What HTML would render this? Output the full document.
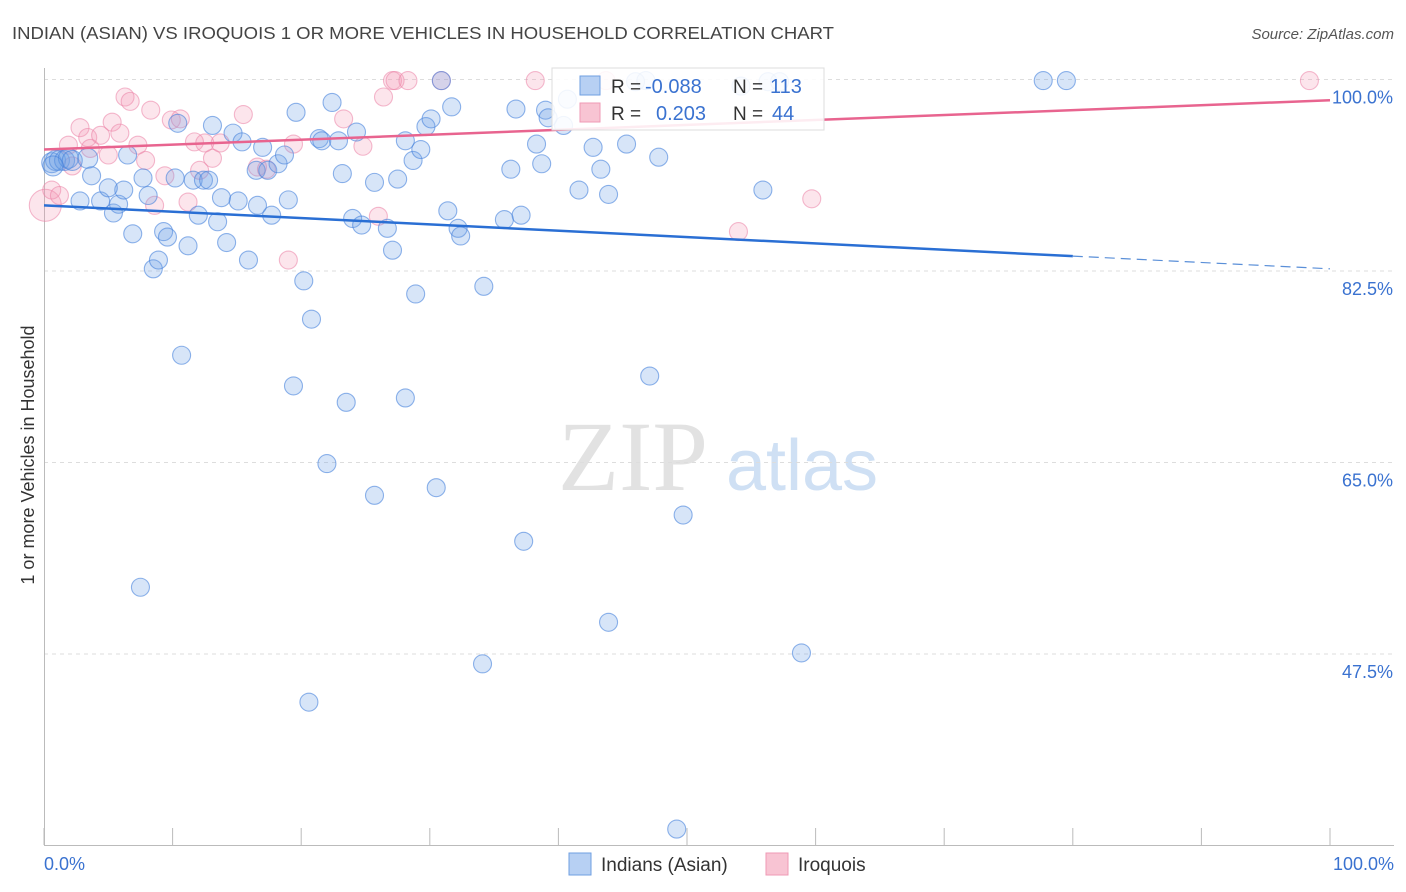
<!DOCTYPE html>
<html><head><meta charset="utf-8"><style>
body{margin:0;background:#fff;font-family:"Liberation Sans",sans-serif}
svg{display:block}
</style></head><body>
<svg id="chart" width="1406" height="892">
<text x="12" y="39" font-size="17.5" fill="#444" textLength="822" lengthAdjust="spacingAndGlyphs">INDIAN (ASIAN) VS IROQUOIS 1 OR MORE VEHICLES IN HOUSEHOLD CORRELATION CHART</text>
<text x="1394" y="39" font-size="15" fill="#555" font-style="italic" text-anchor="end">Source: ZipAtlas.com</text>
<g>
<text x="633" y="490" font-size="100" font-family="Liberation Serif,serif" fill="#e2e2e2" text-anchor="middle">ZIP</text>
<text x="802" y="490" font-size="72" fill="#cfe0f4" text-anchor="middle">atlas</text>
</g>
<g id="grid"></g>
<g id="axes"></g>
<g id="pts"></g>
<g id="lines"></g>
<text transform="translate(34,455) rotate(-90)" font-size="18" fill="#333" text-anchor="middle">1 or more Vehicles in Household</text>
<text x="44" y="870" font-size="18" fill="#3a72d0">0.0%</text>
<text x="1394" y="870" font-size="18" fill="#3a72d0" text-anchor="end">100.0%</text>
<g>
<rect x="552" y="68" width="272" height="62" fill="rgba(255,255,255,0.88)" stroke="#ddd"/>
<rect x="580" y="76" width="20" height="19" fill="#b7d0f3" stroke="#6f9fe2"/>
<rect x="580" y="103" width="20" height="19" fill="#f8c4d3" stroke="#ef9ab5"/>
<text x="611" y="93" font-size="19" fill="#333">R =</text>
<text x="645" y="93" font-size="20" fill="#3a72d0">-0.088</text>
<text x="733" y="93" font-size="19" fill="#333">N =</text>
<text x="770" y="93" font-size="20" fill="#3a72d0">113</text>
<text x="611" y="120" font-size="19" fill="#333">R =</text>
<text x="656" y="120" font-size="20" fill="#3a72d0">0.203</text>
<text x="733" y="120" font-size="19" fill="#333">N =</text>
<text x="772" y="120" font-size="20" fill="#3a72d0">44</text>
</g>
<g>
<rect x="569" y="853" width="22" height="22" fill="#b7d0f3" stroke="#6f9fe2"/>
<text x="601" y="871" font-size="19" fill="#333">Indians (Asian)</text>
<rect x="766" y="853" width="22" height="22" fill="#f8c4d3" stroke="#ef9ab5"/>
<text x="798" y="871" font-size="19" fill="#333">Iroquois</text>
</g>
</svg>
<script>
const yTicks=[100,82.5,65,47.5];
const yTickLabels=["100.0%","82.5%","65.0%","47.5%"];
const xTicks=[0,10,20,30,40,50,60,70,80,90,100];
const blueX=[0.6,0.9,1.2,1.6,1.9,2.2,3.4,0.7,2.8,4.4,5.4,5.8,6.2,5.0,3.7,6.9,8.1,7.7,6.5,8.5,8.9,9.3,9.6,11.2,10.7,7.5,10.4,10.2,11.6,12.0,12.4,12.8,13.1,13.5,14.2,13.8,14.7,15.1,15.4,15.9,16.5,17.0,17.4,17.7,16.6,18.2,18.7,19.0,19.6,20.2,20.8,19.4,21.4,21.6,22.4,22.9,23.2,23.5,22.0,24.0,24.3,24.7,25.7,25.7,26.7,27.1,27.5,28.1,28.1,28.7,28.9,29.3,29.7,30.1,30.5,30.9,31.4,31.7,32.2,32.4,34.2,34.1,35.8,36.3,36.7,37.1,37.3,38.3,38.7,39.0,39.2,40.4,40.7,41.6,42.7,43.3,43.9,43.9,45.3,47.1,47.8,49.7,49.2,55.9,58.9,20.6,77.7,79.5,46.0,46.8,56.3,57.2,54.2];
const blueY=[92.4,92.6,92.6,92.6,92.8,92.6,92.8,92.1,88.9,88.9,87.8,88.6,89.9,90.1,91.2,85.9,89.4,91.0,93.1,82.7,83.5,86.1,85.6,84.8,74.8,53.6,96.0,91.0,90.8,87.6,90.8,90.8,95.8,87.0,85.1,89.2,95.1,88.9,94.3,83.5,91.7,93.8,91.7,87.6,88.5,92.3,93.1,89.0,97.0,81.6,78.1,72.0,94.6,94.4,97.9,94.4,91.4,70.5,64.9,87.3,95.2,86.7,90.6,62.0,86.4,84.4,90.9,94.4,70.9,92.6,80.4,93.6,95.7,96.4,62.7,99.9,88.0,97.5,86.4,85.7,81.1,46.6,87.2,91.8,97.3,87.6,57.8,94.1,92.3,97.2,96.5,95.8,98.2,89.9,93.8,91.8,89.5,50.4,94.1,72.9,92.9,60.2,31.5,89.9,47.6,43.1,99.9,99.9,99.8,99.9,99.8,99.8,99.4];
const pinkX=[0.1,0.6,1.2,1.9,2.2,2.8,3.4,3.6,4.4,5.0,5.3,5.9,6.3,6.7,7.3,7.9,8.3,8.6,9.4,9.9,10.6,11.2,11.7,12.1,12.5,13.1,13.7,15.5,16.6,17.3,19.0,19.4,23.3,24.8,26.0,26.4,27.1,27.3,28.3,30.9,38.2,54.0,59.7,98.4,43.7];
const pinkY=[88.5,89.9,89.4,94.0,92.1,95.6,94.7,93.7,94.9,93.1,96.1,95.1,98.4,98.0,94.0,92.6,97.2,88.5,91.2,96.3,96.4,88.8,94.3,91.7,94.2,92.8,94.2,96.8,92.0,91.8,83.5,94.1,96.4,93.9,87.5,98.4,99.9,99.9,99.9,99.9,99.9,86.1,89.1,99.9,99.9];
const pinkR=[16,9,9,9,9,9,9,9,9,9,9,9,9,9,9,9,9,9,9,9,9,9,9,9,9,9,9,9,9,9,9,9,9,9,9,9,9,9,9,9,9,9,9,9,9];
const blueTrend=[88.5,82.7];
const blueTrendSolidEnd=80;
const pinkTrend=[93.6,98.1];

const NS='http://www.w3.org/2000/svg';
const X0=44,X1=1330,Y100=79.5,PPU=191.5/17.5;
const sx=v=>X0+(X1-X0)*v/100;
const sy=v=>Y100+(100-v)*PPU;
function mk(tag,attrs,parent){const e=document.createElementNS(NS,tag);for(const k in attrs)e.setAttribute(k,attrs[k]);parent.appendChild(e);return e;}
const grid=document.getElementById('grid');
yTicks.forEach((t,i)=>{
  const l=mk('line',{x1:44,x2:1394,y1:sy(t),y2:sy(t),stroke:'#ddd','stroke-dasharray':'4,4'},grid);
  
  
  const tx=mk('text',{x:1393,y:sy(t)+24,'font-size':18,fill:'#3a72d0','text-anchor':'end'},grid);
  tx.textContent=yTickLabels[i];
  
  
});
const axes=document.getElementById('axes');
const ya=mk('line',{x1:44.5,x2:44.5,y1:68,y2:845,stroke:'#bbb'},axes);


const xa=mk('line',{x1:44,x2:1394,y1:845.5,y2:845.5,stroke:'#bbb'},axes);


xTicks.forEach(t=>{
  const tk=mk('line',{x1:sx(t),x2:sx(t),y1:828,y2:845,stroke:'#bbb'},axes);
  
  
});
const pts=document.getElementById('pts');


pinkX.forEach((v,i)=>{
  const c=mk('circle',{cx:sx(v),cy:sy(pinkY[i]),r:pinkR[i],fill:'rgba(243,150,180,0.25)',stroke:'rgba(235,130,165,0.55)','stroke-width':1.1},pts);
  
  
});
blueX.forEach((v,i)=>{
  const c=mk('circle',{cx:sx(v),cy:sy(blueY[i]),r:i<8?10:9,fill:'rgba(110,160,230,0.28)',stroke:'rgba(70,130,220,0.6)','stroke-width':1.1},pts);
  
  
});
const lines=document.getElementById('lines');
const bAt=x=>blueTrend[0]+(blueTrend[1]-blueTrend[0])*x/100;
const bl=mk('line',{x1:sx(0),y1:sy(bAt(0)),x2:sx(blueTrendSolidEnd),y2:sy(bAt(blueTrendSolidEnd)),stroke:'#2a6fd4','stroke-width':2.5},lines);


const bd=mk('line',{x1:sx(blueTrendSolidEnd),y1:sy(bAt(blueTrendSolidEnd)),x2:sx(100),y2:sy(bAt(100)),stroke:'#5a8fd8','stroke-width':1.2,'stroke-dasharray':'10,6'},lines);


const pl=mk('line',{x1:sx(0),y1:sy(pinkTrend[0]),x2:sx(100),y2:sy(pinkTrend[1]),stroke:'#e8648f','stroke-width':2.5},lines);


</script>
</body></html>
